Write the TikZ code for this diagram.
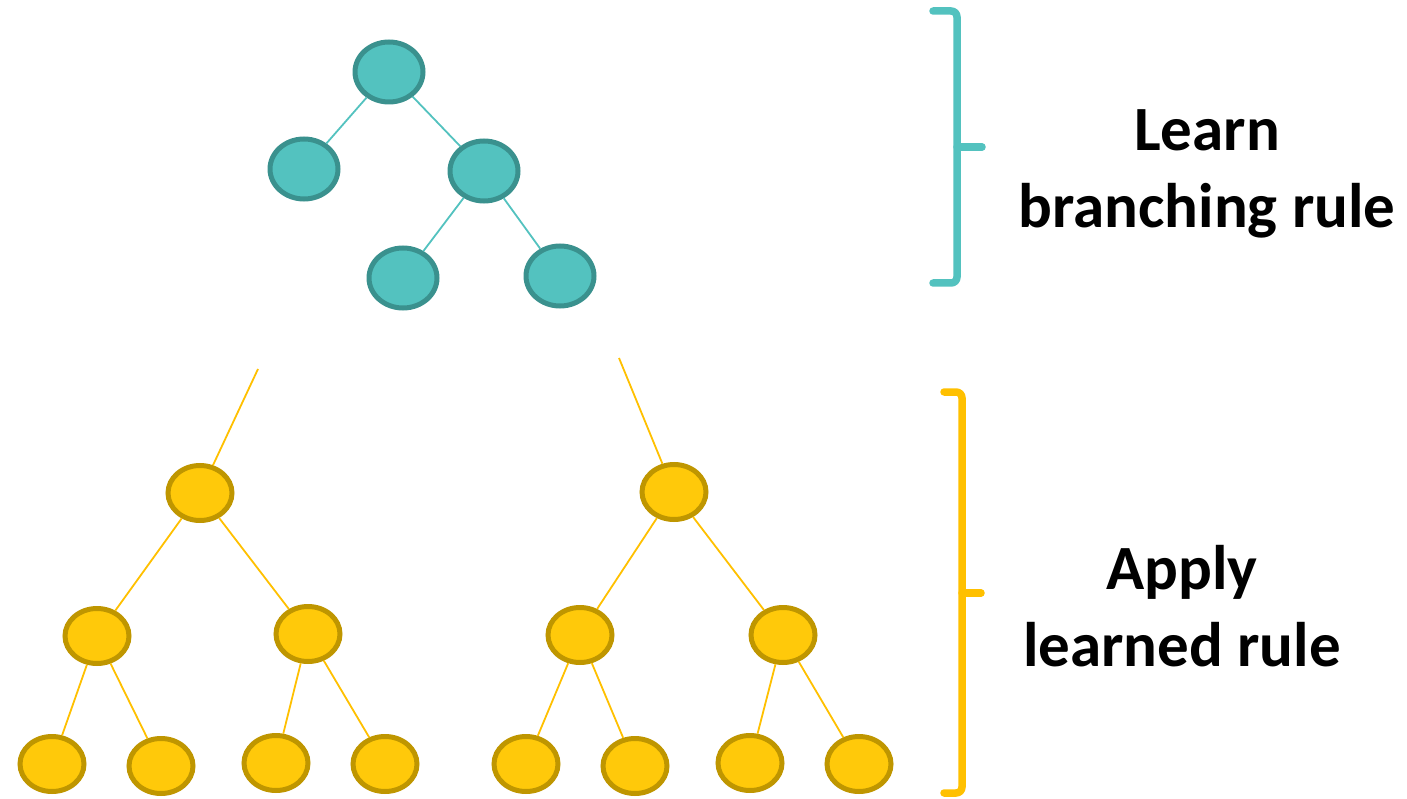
\documentclass[tikz,border=0pt]{standalone}
\usepackage{fontspec}
\setmainfont{Carlito}
\usetikzlibrary{shapes.geometric}
\definecolor{tealfill}{HTML}{53C2BF}
\definecolor{tealdraw}{HTML}{3A918E}
\definecolor{yelfill}{HTML}{FFC90A}
\definecolor{yeldraw}{HTML}{BF9600}
\definecolor{yelline}{HTML}{FFC000}
\tikzset{
  tnode/.style={ellipse, draw=tealdraw, fill=tealfill, line width=5pt, minimum width=68pt, minimum height=60pt, inner sep=0pt},
  ynode/.style={ellipse, draw=yeldraw, fill=yelfill, line width=5pt, minimum width=64pt, minimum height=55pt, inner sep=0pt},
  tedge/.style={draw=tealfill, line width=1.8pt},
  yedge/.style={draw=yelline, line width=1.8pt},
  label/.style={font=\bfseries\fontsize{63}{77}\selectfont, align=center, inner sep=0pt},
  bracket/.style={line width=7.5pt, line cap=round, rounded corners=6pt}
}
\begin{document}
\begin{tikzpicture}[x=1pt,y=-1pt]
\useasboundingbox (0,0) rectangle (1407,799);
% teal tree
\node[tnode] (t0) at (389,72) {};
\node[tnode] (t1) at (304,169) {};
\node[tnode] (t2) at (484,171) {};
\node[tnode] (t3) at (403,278) {};
\node[tnode] (t4) at (560,276) {};
\draw[tedge] (t0) -- (t1);
\draw[tedge] (t0) -- (t2);
\draw[tedge] (t2) -- (t3);
\draw[tedge] (t2) -- (t4);
% left yellow tree
\node[ynode] (a0) at (200,493) {};
\node[ynode] (a1) at (97,636) {};
\node[ynode] (a2) at (308,634) {};
\node[ynode] (a11) at (52,764) {};
\node[ynode] (a12) at (161,766) {};
\node[ynode] (a21) at (276,763) {};
\node[ynode] (a22) at (385,764) {};
\coordinate (atop) at (258,369);
\draw[yedge] (atop) -- (a0);
\draw[yedge] (a0) -- (a1);
\draw[yedge] (a0) -- (a2);
\draw[yedge] (a1) -- (a11);
\draw[yedge] (a1) -- (a12);
\draw[yedge] (a2) -- (a21);
\draw[yedge] (a2) -- (a22);
% right yellow tree
\node[ynode] (b0) at (674,492) {};
\node[ynode] (b1) at (580,635) {};
\node[ynode] (b2) at (783,635) {};
\node[ynode] (b11) at (526,764) {};
\node[ynode] (b12) at (635,766) {};
\node[ynode] (b21) at (750,763) {};
\node[ynode] (b22) at (859,764) {};
\coordinate (btop) at (619,358);
\draw[yedge] (btop) -- (b0);
\draw[yedge] (b0) -- (b1);
\draw[yedge] (b0) -- (b2);
\draw[yedge] (b1) -- (b11);
\draw[yedge] (b1) -- (b12);
\draw[yedge] (b2) -- (b21);
\draw[yedge] (b2) -- (b22);
% brackets
\draw[bracket, tealfill] (933,11) -- (957,11) -- (957,283) -- (933,283);
\draw[bracket, tealfill] (957,147) -- (982,147);
\draw[bracket, yelline] (944,392) -- (962,392) -- (962,793) -- (944,793);
\draw[bracket, yelline] (962,593) -- (981,593);
% labels
\node[label] (learn) at (1207,174) {Learn\\branching rule};
\node[label] (apply) at (1182,606) {Apply\\learned rule};
\end{tikzpicture}
\end{document}
